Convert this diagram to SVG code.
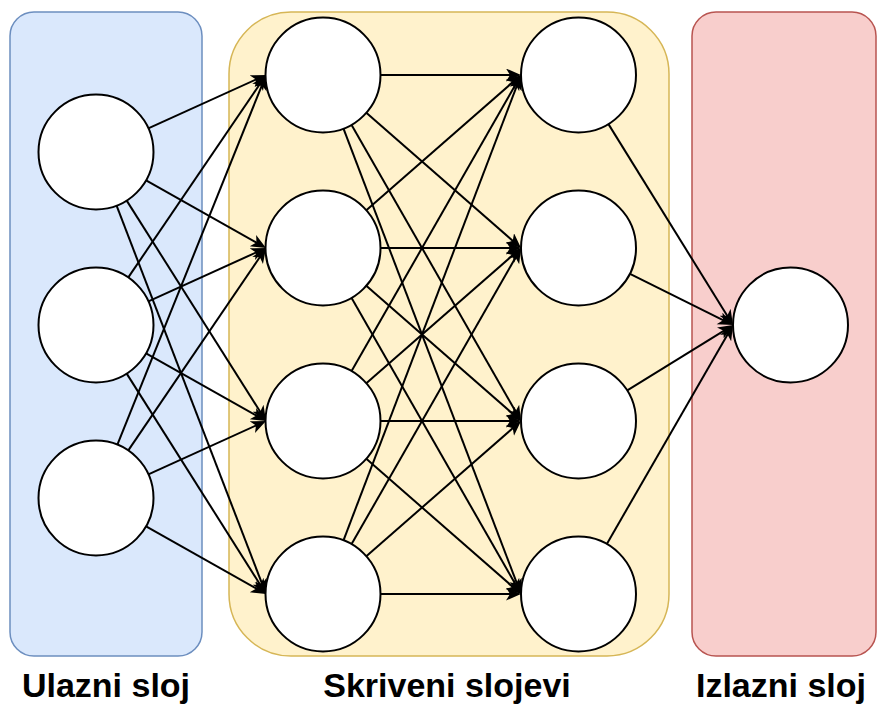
<svg xmlns="http://www.w3.org/2000/svg" width="878" height="705" viewBox="0 0 878 705">
  <style>
    .node { fill: #ffffff; stroke: #000000; stroke-width: 2; }
    .edge { fill: none; stroke: #000000; stroke-width: 2; marker-end: url(#arrow); }
    .label { font-family: "Liberation Sans", Arial, Helvetica, sans-serif; font-weight: bold; font-size: 34px; fill: #000000; text-anchor: middle; }
  </style>
  <defs>
    <marker id="arrow" markerUnits="userSpaceOnUse" markerWidth="18" markerHeight="15" refX="5" refY="6.5" orient="auto">
      <path d="M0,0 L15,6.5 L0,13 L4,6.5 Z" fill="#000000"/>
    </marker>
  </defs>
  <rect width="878" height="705" fill="#ffffff"/>

  <g id="layer-input">
    <rect x="10" y="12" width="192" height="644" rx="24" ry="24" fill="#dae8fc" stroke="#6c8ebf" stroke-width="1.5"/>
  </g>
  <g id="layer-hidden">
    <rect x="229" y="12" width="440" height="644" rx="62" ry="62" fill="#fff2cc" stroke="#d6b656" stroke-width="1.5"/>
  </g>
  <g id="layer-output">
    <rect x="692" y="12" width="184" height="644" rx="24" ry="24" fill="#f8cecc" stroke="#b85450" stroke-width="1.5"/>
  </g>

  <g id="connectors">
    <!-- input -> hidden 1 -->
    <path class="edge" d="M148.3,128.3 L256.9,79.1"/>
    <path class="edge" d="M146.1,180.3 L257.3,243.1"/>
    <path class="edge" d="M126.7,200.6 L260.7,412.5"/>
    <path class="edge" d="M116.6,205.7 L262.4,584.7"/>
    <path class="edge" d="M128.3,277.4 L260.4,83.3"/>
    <path class="edge" d="M148.4,301.3 L256.9,252.1"/>
    <path class="edge" d="M146.1,353.3 L257.3,416.1"/>
    <path class="edge" d="M126.7,373.6 L260.7,585.5"/>
    <path class="edge" d="M117.4,444.6 L262.3,84.3"/>
    <path class="edge" d="M128.3,450.4 L260.4,256.3"/>
    <path class="edge" d="M148.4,474.3 L256.9,425.1"/>
    <path class="edge" d="M146.1,526.3 L257.3,589.1"/>
    <!-- hidden 1 -> hidden 2 -->
    <path class="edge" d="M380.5,75 L511,75"/>
    <path class="edge" d="M366.3,112.8 L513.5,241.4"/>
    <path class="edge" d="M351.6,124.9 L516,412.3"/>
    <path class="edge" d="M343.5,128.7 L517.4,584.7"/>
    <path class="edge" d="M366.3,210.2 L513.5,81.6"/>
    <path class="edge" d="M380.5,248 L511,248"/>
    <path class="edge" d="M366.3,285.8 L513.5,414.4"/>
    <path class="edge" d="M351.6,297.9 L516,585.3"/>
    <path class="edge" d="M351.6,371.1 L516,83.7"/>
    <path class="edge" d="M366.3,383.2 L513.5,254.6"/>
    <path class="edge" d="M380.5,421 L511,421"/>
    <path class="edge" d="M366.3,458.8 L513.5,587.4"/>
    <path class="edge" d="M343.5,540.3 L517.4,84.3"/>
    <path class="edge" d="M351.6,544.1 L516,256.7"/>
    <path class="edge" d="M366.3,556.2 L513.5,427.6"/>
    <path class="edge" d="M380.5,594 L511,594"/>
    <!-- hidden 2 -> output -->
    <path class="edge" d="M608.3,123.9 L727.7,316.5"/>
    <path class="edge" d="M629.5,273.6 L724.0,320.6"/>
    <path class="edge" d="M626.9,390.7 L724.5,330.3"/>
    <path class="edge" d="M606.7,544.2 L728.0,333.7"/>
  </g>

  <g id="in1"><circle class="node" cx="96" cy="152" r="57.5"/></g>
  <g id="in2"><circle class="node" cx="96" cy="325" r="57.5"/></g>
  <g id="in3"><circle class="node" cx="96" cy="498" r="57.5"/></g>

  <g id="h1-1"><circle class="node" cx="323" cy="75" r="57.5"/></g>
  <g id="h1-2"><circle class="node" cx="323" cy="248" r="57.5"/></g>
  <g id="h1-3"><circle class="node" cx="323" cy="421" r="57.5"/></g>
  <g id="h1-4"><circle class="node" cx="323" cy="594" r="57.5"/></g>

  <g id="h2-1"><circle class="node" cx="578.5" cy="75" r="57.5"/></g>
  <g id="h2-2"><circle class="node" cx="578.5" cy="248" r="57.5"/></g>
  <g id="h2-3"><circle class="node" cx="578.5" cy="421" r="57.5"/></g>
  <g id="h2-4"><circle class="node" cx="578.5" cy="594" r="57.5"/></g>

  <g id="out1"><circle class="node" cx="790.5" cy="325" r="57.5"/></g>

  <g id="labels">
    <text class="label" x="106" y="697">Ulazni sloj</text>
    <text class="label" x="447" y="697">Skriveni slojevi</text>
    <text class="label" x="781" y="697">Izlazni sloj</text>
  </g>
</svg>
